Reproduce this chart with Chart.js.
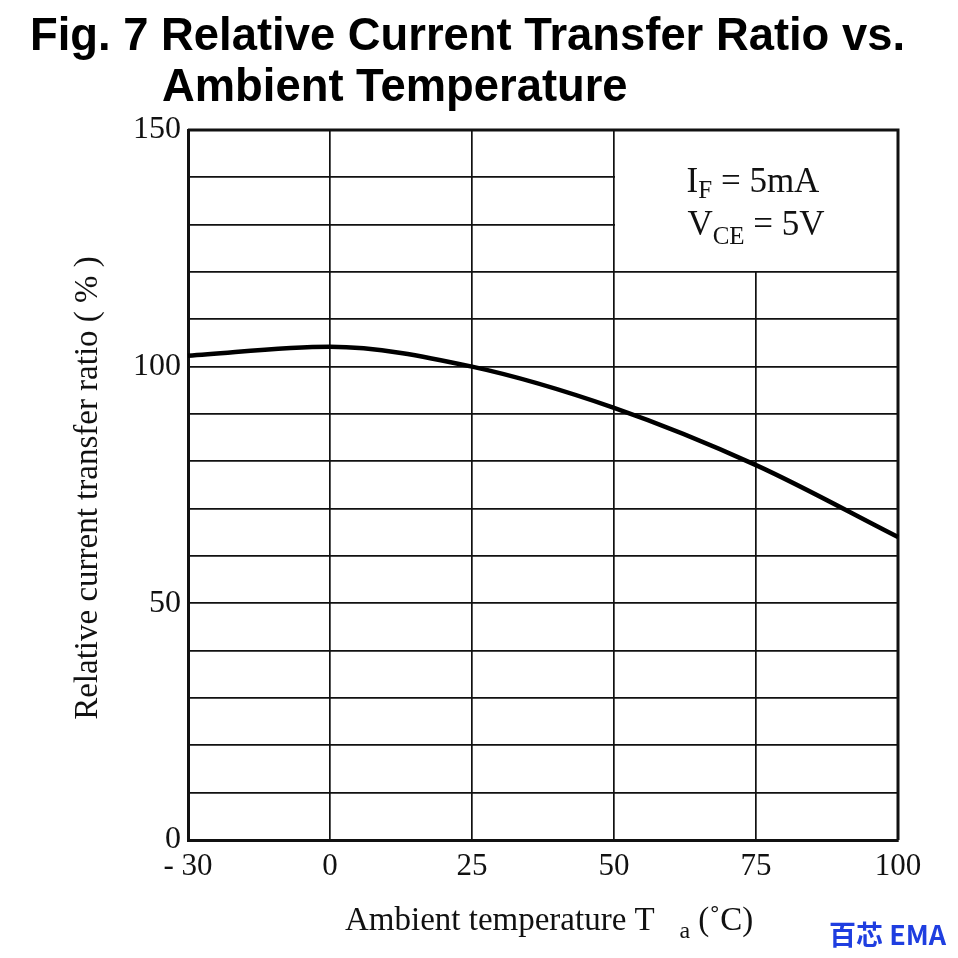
<!DOCTYPE html>
<html>
<head>
<meta charset="utf-8">
<script src="https://cdn.jsdelivr.net/npm/chart.js@4.4.0/dist/chart.umd.min.js"></script>
<style>
  html, body { margin: 0; padding: 0; background: #fff; }
  #wrap { width: 958px; height: 958px; }
</style>
</head>
<body>
<div id="wrap"><canvas id="chart" width="958" height="958"></canvas></div>
<script>
// values
const tempLabels = ['- 30', '0', '25', '50', '75', '100'];
const ctrValues = [102.3, 104.2, 100, 91.3, 79.2, 64];
const yTicksShown = [0, 50, 100, 150];
const noteBox = { fromIndex: 3, toIndex: 5, fromValue: 120, toValue: 150 };

const SERIF = '"Liberation Serif", "DejaVu Serif", serif';

// draws a run of text pieces (normal + subscript) left to right
function drawRun(ctx, parts, x, y) {
  let cx = x;
  parts.forEach(p => {
    ctx.font = p.size + 'px ' + SERIF;
    ctx.fillText(p.t, cx, y + (p.dy || 0));
    cx += ctx.measureText(p.t).width;
  });
  return cx - x;
}
function runWidth(ctx, parts) {
  let w = 0;
  parts.forEach(p => { ctx.font = p.size + 'px ' + SERIF; w += ctx.measureText(p.t).width; });
  return w;
}

const textPlugin = {
  id: 'figText',
  beforeDatasetsDraw(chart) {
    const { ctx, chartArea, scales: { x, y } } = chart;
    // white note box over the upper right grid cells
    const l = x.getPixelForValue(noteBox.fromIndex), r = x.getPixelForValue(noteBox.toIndex);
    const t = y.getPixelForValue(noteBox.toValue), b = y.getPixelForValue(noteBox.fromValue);
    ctx.save();
    ctx.fillStyle = '#fff';
    ctx.fillRect(l + 1, t - 1, r - l + 2, b - t);
    // top and right edges of the frame
    ctx.strokeStyle = '#111';
    ctx.lineWidth = 3;
    ctx.beginPath();
    ctx.moveTo(chartArea.left, chartArea.top);
    ctx.lineTo(chartArea.right, chartArea.top);
    ctx.lineTo(chartArea.right, chartArea.bottom);
    ctx.stroke();

    ctx.fillStyle = '#111';
    ctx.textBaseline = 'alphabetic';
    const cx = (l + r) / 2;
    const line1 = [{ t: 'I', size: 35 }, { t: 'F', size: 25, dy: 6 }, { t: ' = 5mA', size: 35 }];
    const line2 = [{ t: 'V', size: 35 }, { t: 'CE', size: 25, dy: 9 }, { t: ' = 5V', size: 35 }];
    drawRun(ctx, line1, cx - runWidth(ctx, line1) / 2 - 3, t + (b - t) * 0.44);
    drawRun(ctx, line2, cx - runWidth(ctx, line2) / 2, t + (b - t) * 0.74);
    ctx.restore();
  },
  afterDraw(chart) {
    const { ctx, chartArea } = chart;
    ctx.save();
    ctx.fillStyle = '#000';
    ctx.textBaseline = 'alphabetic';
    // title, two lines, condensed bold sans
    ctx.font = 'bold 42px "Liberation Sans", Arial, sans-serif';
    const t1 = 'Fig. 7 Relative Current Transfer Ratio vs.';
    const sx = 875 / ctx.measureText(t1).width;
    ctx.save();
    ctx.translate(30, 50);
    ctx.scale(sx, 1.08);
    ctx.fillText(t1, 0, 0);
    ctx.restore();
    ctx.save();
    ctx.translate(162, 101);
    ctx.scale(sx, 1.08);
    ctx.fillText('Ambient Temperature', 0, 0);
    ctx.restore();

    // y axis title
    ctx.fillStyle = '#111';
    ctx.save();
    ctx.translate(97, (chartArea.top + chartArea.bottom) / 2 + 3);
    ctx.rotate(-Math.PI / 2);
    ctx.font = '33px ' + SERIF;
    ctx.textAlign = 'center';
    ctx.fillText('Relative current transfer ratio ( % )', 0, 0);
    ctx.restore();

    // x axis title with subscript
    const xt = [{ t: 'Ambient temperature T   ', size: 33 }, { t: 'a', size: 24, dy: 8 }, { t: ' (˚C)', size: 33 }];
    drawRun(ctx, xt, 345, 930);

    // watermark
    ctx.fillStyle = '#1f3ee0';
    ctx.font = 'bold 27px "Noto Sans CJK SC", sans-serif';
    ctx.fillText('百芯 EMA', 829, 945);
    ctx.restore();
  }
};

new Chart(document.getElementById('chart'), {
  type: 'line',
  data: {
    labels: tempLabels,
    datasets: [{
      data: ctrValues,
      borderColor: '#000',
      borderWidth: 4.5,
      pointRadius: 0,
      cubicInterpolationMode: 'monotone',
      fill: false
    }]
  },
  options: {
    responsive: false,
    animation: false,
    layout: { padding: { left: 0, top: 130, right: 60, bottom: 0 } },
    plugins: { legend: { display: false }, tooltip: { enabled: false } },
    scales: {
      x: {
        offset: false,
        grid: { color: '#111', lineWidth: 1.7, drawTicks: false },
        border: { color: '#111', width: 3 },
        ticks: { color: '#111', font: { family: SERIF, size: 31 }, padding: 8, maxRotation: 0, autoSkip: false },
        afterFit: s => { s.height = 118; }
      },
      y: {
        min: 0,
        max: 150,
        grid: { color: '#111', lineWidth: 1.7, drawTicks: false },
        border: { color: '#111', width: 3 },
        ticks: {
          stepSize: 10,
          color: '#111',
          font: { family: SERIF, size: 32 },
          padding: 7,
          callback: v => (yTicksShown.includes(v) ? v : '')
        },
        afterFit: s => { s.width = 188; }
      }
    }
  },
  plugins: [textPlugin]
});
</script>
</body>
</html>
